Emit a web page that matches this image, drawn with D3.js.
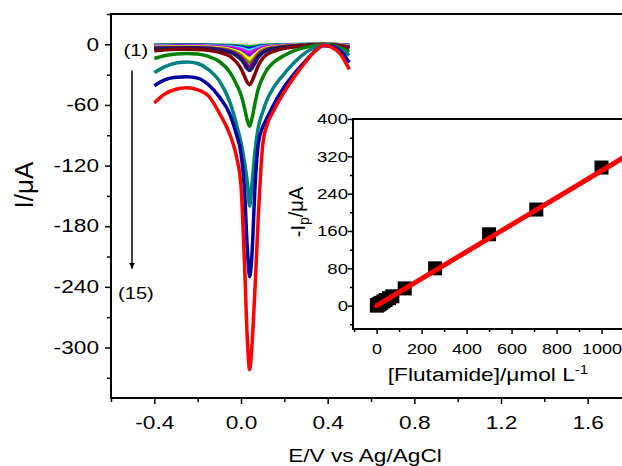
<!DOCTYPE html>
<html>
<head>
<meta charset="utf-8">
<script src="https://cdn.jsdelivr.net/npm/d3@7"></script>
<style>
  body { margin: 0; background: #fff; }
  text { font-family: "Liberation Sans", Arial, sans-serif; fill: #000; }
</style>
</head>
<body>
<div id="graph"></div>
<script>
// potential grid (V) shared by all voltammograms
var potential = [-0.4, -0.35, -0.3, -0.25, -0.2, -0.15, -0.1, -0.05, -0.02, 0, 0.015, 0.03, 0.04, 0.05, 0.065, 0.08, 0.1, 0.12, 0.15, 0.2, 0.25, 0.3, 0.35, 0.38, 0.42, 0.46, 0.5];

// currents (uA), curve (1) .. (15)
var c1 = [-0.5,-0.4,-0.4,-0.4,-0.4,-0.4,-0.5,-0.6,-0.8,-0.9,-1,-1.15,-1.2,-1.15,-1,-0.8,-0.6,-0.5,-0.4,-0.3,-0.2,-0.1,0,0,-0.1,-0.2,-0.4];
var c2 = [-0.8,-0.7,-0.7,-0.6,-0.7,-0.7,-0.9,-1.2,-1.5,-1.8,-2.1,-2.4,-2.5,-2.4,-2,-1.5,-1.1,-0.9,-0.7,-0.4,-0.3,-0.1,0,0,-0.1,-0.3,-0.6];
var c3 = [-1.2,-1.1,-1,-1,-1,-1.1,-1.3,-1.8,-2.3,-2.8,-3.3,-3.9,-4,-3.8,-3.1,-2.3,-1.7,-1.4,-1.1,-0.7,-0.4,-0.2,-0.1,0,-0.1,-0.4,-0.8];
var c4 = [-1.6,-1.4,-1.3,-1.3,-1.3,-1.5,-1.8,-2.5,-3.3,-4,-4.9,-5.8,-6,-5.6,-4.5,-3.3,-2.4,-1.9,-1.4,-0.9,-0.6,-0.3,-0.1,0,-0.2,-0.6,-1.1];
var c5 = [-2,-1.8,-1.6,-1.6,-1.7,-1.9,-2.3,-3.2,-4.3,-5.3,-6.5,-7.7,-8,-7.5,-5.9,-4.4,-3.1,-2.4,-1.8,-1.1,-0.7,-0.4,-0.2,-0.1,-0.2,-0.7,-1.4];
var c6 = [-2.5,-2.2,-2,-2,-2.1,-2.3,-2.9,-4.1,-5.7,-7.1,-8.8,-10.5,-11,-10.2,-7.9,-5.8,-4,-3,-2.2,-1.4,-0.9,-0.5,-0.2,-0.1,-0.3,-0.8,-1.7];
var c7 = [-3,-2.7,-2.5,-2.4,-2.5,-2.8,-3.5,-5,-7,-8.8,-11,-13.3,-14,-13,-10,-7.2,-4.9,-3.6,-2.7,-1.7,-1,-0.6,-0.3,-0.1,-0.3,-1,-2];
var c8 = [-3.5,-3.1,-2.9,-2.8,-2.9,-3.3,-4.2,-6,-8.5,-11,-14,-17,-18,-16.8,-12.8,-9,-6,-4.3,-3.2,-2,-1.2,-0.7,-0.3,-0.1,-0.4,-1.2,-2.4];
var c9 = [-4,-3.6,-3.4,-3.3,-3.4,-3.8,-4.8,-7,-10,-13,-17,-21,-22,-20.5,-15.5,-11,-7.3,-5.2,-3.8,-2.3,-1.4,-0.8,-0.4,-0.2,-0.4,-1.4,-2.8];
var c10 = [-4.5,-4,-3.8,-3.7,-3.8,-4.3,-5.5,-8,-11.5,-15,-19.5,-24.5,-26,-24,-18.5,-13,-8.5,-6,-4.3,-2.6,-1.6,-0.9,-0.4,-0.2,-0.5,-1.6,-3.2];
var c11 = [-6.5,-5.5,-5,-5,-5.2,-6,-8,-12,-18,-24,-31,-38,-40,-37,-29,-21,-14,-10,-7,-4,-2.5,-1.3,-0.5,-0.2,-0.6,-2,-4];
var c12 = [-14,-11,-9.5,-9,-9.5,-12,-17,-28,-40,-50,-62,-76,-81,-74,-58,-44,-33,-25,-18,-11,-6,-3,-1,-0.3,-1,-3.5,-7.5];
var c13 = [-28,-22,-18.5,-17.5,-19,-25,-36,-58,-80,-97,-115,-138,-160,-140,-105,-82,-67,-55,-43,-29,-17,-8,-2,-0.5,-1.5,-5,-11];
var c14 = [-41,-35,-32.5,-32,-33.5,-40,-52,-70,-90,-108,-140,-205,-230,-210,-140,-98,-82,-73,-60,-42,-28,-16,-5,-1.5,-2,-7,-18];
var c15 = [-58,-49,-44.5,-43,-45,-51,-68,-90,-112,-140,-210,-295,-322,-300,-240,-170,-100,-80,-66,-47,-31,-17,-5,-1,-3,-10,-25];
var curves = [c1, c2, c3, c4, c5, c6, c7, c8, c9, c10, c11, c12, c13, c14, c15];
var lineColors = ['#c8c8c8', '#00c000', '#0000ff', '#00ffff', '#ff00ff', '#8000ff', '#ffff00',
                  '#808000', '#800080', '#1a1a70', '#800000', '#008000', '#008080', '#0000a0', '#ff0000'];

// main axes ticks
var xMajor = [-0.4, 0, 0.4, 0.8, 1.2, 1.6];
var xMinor = [-0.6, -0.2, 0.2, 0.6, 1.0, 1.4];
var yMajor = [-300, -240, -180, -120, -60, 0];
var yMinor = [-330, -270, -210, -150, -90, -30, 30];

// inset: calibration data
var concentration = [1, 2, 5, 10, 15, 20, 30, 40, 55, 70, 125, 260, 500, 710, 1000];
var peakCurrent = [0.4, 0.8, 1.5, 3, 4.5, 6, 9, 12, 16, 20, 37, 80, 153, 206, 296];
var fitX = [0, 1100];
var fitY = [0, 318];
var insetXMajor = [0, 200, 400, 600, 800, 1000];
var insetXMinor = [-100, 100, 300, 500, 700, 900];
var insetYMajor = [0, 80, 160, 240, 320, 400];
var insetYMinor = [-40, 40, 120, 200, 280, 360];

var SX = 1.26; // the figure's glyphs are a bit wide
var ISX = 1.2; // inset labels

var svg = d3.select("#graph").append("svg")
    .attr("width", 622)
    .attr("height", 466);

// ---------- main plot ----------
var x = d3.scaleLinear().domain([-0.6, 1.8]).range([111, 631]);
var y = d3.scaleLinear().domain([-350, 30]).range([398, 14]);

var line = d3.line()
    .x(function(d) { return x(d[0]); })
    .y(function(d) { return y(d[1]); })
    .curve(d3.curveMonotoneX);

curves.forEach(function(c, i) {
    svg.append("path")
        .attr("d", line(d3.zip(potential, c)))
        .attr("fill", "none")
        .attr("stroke", lineColors[i])
        .attr("stroke-width", 3.5)
        .attr("stroke-linejoin", "round");
});

function tickStyle(g) {
    g.select(".domain").remove();
    g.selectAll("line").attr("stroke", "#000").attr("stroke-width", 1.5);
}

svg.append("g").attr("transform", "translate(0,398)")
    .call(d3.axisBottom(x).tickValues(xMinor).tickSize(4).tickFormat(""))
    .call(tickStyle);
svg.append("g").attr("transform", "translate(0,398)")
    .call(d3.axisBottom(x).tickValues(xMajor).tickSize(6).tickFormat(function(d) { return d.toFixed(1); }))
    .call(tickStyle)
    .selectAll("text")
    .attr("y", 18.5)
    .attr("transform", "scale(" + SX + ",1)")
    .style("font-size", "18px");

svg.append("g").attr("transform", "translate(111,0)")
    .call(d3.axisLeft(y).tickValues(yMinor).tickSize(4).tickFormat(""))
    .call(tickStyle);
svg.append("g").attr("transform", "translate(111,0)")
    .call(d3.axisLeft(y).tickValues(yMajor).tickSize(6).tickFormat(function(d) { return String(d); }))
    .call(tickStyle)
    .selectAll("text")
    .attr("x", -12 / SX)
    .attr("transform", "scale(" + SX + ",1)")
    .style("font-size", "18px");

svg.append("rect")
    .attr("x", 111).attr("y", 14)
    .attr("width", 520).attr("height", 384)
    .attr("fill", "none")
    .attr("stroke", "#000")
    .attr("stroke-width", 2);

// axis titles
svg.append("text")
    .attr("transform", "translate(365,462) scale(" + SX + ",1)")
    .attr("text-anchor", "middle")
    .style("font-size", "18px")
    .text("E/V vs Ag/AgCl");

svg.append("text")
    .attr("transform", "translate(33,185) rotate(-90)")
    .attr("text-anchor", "middle")
    .style("font-size", "26px")
    .text("I/\u03bcA");

// arrow (1) -> (15)
var defs = svg.append("defs");
defs.append("marker")
    .attr("id", "arrow")
    .attr("viewBox", "0 0 10 10")
    .attr("refX", 10).attr("refY", 5)
    .attr("markerWidth", 6).attr("markerHeight", 8)
    .attr("markerUnits", "userSpaceOnUse")
    .attr("orient", "auto")
    .append("path").attr("d", "M0,0L10,5L0,10Z").attr("fill", "#000");

svg.append("line")
    .attr("x1", x(-0.503)).attr("y1", y(-26))
    .attr("x2", x(-0.503)).attr("y2", y(-222))
    .attr("stroke", "#000").attr("stroke-width", 1.5)
    .attr("marker-end", "url(#arrow)");

svg.append("text")
    .attr("transform", "translate(" + x(-0.485) + "," + y(-12) + ") scale(" + SX + ",1)")
    .attr("text-anchor", "middle")
    .style("font-size", "16px")
    .text("(1)");
svg.append("text")
    .attr("transform", "translate(" + x(-0.485) + "," + y(-252) + ") scale(" + SX + ",1)")
    .attr("text-anchor", "middle")
    .style("font-size", "16px")
    .text("(15)");

// ---------- inset ----------
var ix = d3.scaleLinear().domain([-105, 1100]).range([353, 624]);
var iy = d3.scaleLinear().domain([-50, 400]).range([329, 119]);

svg.append("rect")
    .attr("x", 353).attr("y", 119)
    .attr("width", 271).attr("height", 210)
    .attr("fill", "#fff");

svg.append("g").attr("transform", "translate(0,329)")
    .call(d3.axisBottom(ix).tickValues(insetXMinor).tickSize(3).tickFormat(""))
    .call(tickStyle);
svg.append("g").attr("transform", "translate(0,329)")
    .call(d3.axisBottom(ix).tickValues(insetXMajor).tickSize(5).tickFormat(function(d) { return String(d); }))
    .call(tickStyle)
    .selectAll("text")
    .attr("y", 14)
    .attr("transform", "scale(" + ISX + ",1)")
    .style("font-size", "15px");

svg.append("g").attr("transform", "translate(353,0)")
    .call(d3.axisLeft(iy).tickValues(insetYMinor).tickSize(3).tickFormat(""))
    .call(tickStyle);
svg.append("g").attr("transform", "translate(353,0)")
    .call(d3.axisLeft(iy).tickValues(insetYMajor).tickSize(5).tickFormat(function(d) { return String(d); }))
    .call(tickStyle)
    .selectAll("text")
    .attr("x", -5 / ISX)
    .attr("transform", "scale(" + ISX + ",1)")
    .style("font-size", "15.5px");

svg.selectAll(".pt")
    .data(d3.zip(concentration, peakCurrent))
    .enter().append("rect")
    .attr("class", "pt")
    .attr("x", function(d) { return ix(d[0]) - 7; })
    .attr("y", function(d) { return iy(d[1]) - 7; })
    .attr("width", 14).attr("height", 14)
    .attr("fill", "#000");

svg.append("path")
    .attr("d", d3.line()
        .x(function(d) { return ix(d[0]); })
        .y(function(d) { return iy(d[1]); })(d3.zip(fitX, fitY)))
    .attr("stroke", "#ff0000")
    .attr("stroke-width", 5)
    .attr("stroke-linecap", "round")
    .attr("fill", "none");

svg.append("rect")
    .attr("x", 353).attr("y", 119)
    .attr("width", 271).attr("height", 210)
    .attr("fill", "none")
    .attr("stroke", "#000")
    .attr("stroke-width", 2);

var ixt = svg.append("text")
    .attr("transform", "translate(488,381) scale(" + SX + ",1)")
    .attr("text-anchor", "middle")
    .style("font-size", "18px");
ixt.append("tspan").text("[Flutamide]/\u03bcmol L");
ixt.append("tspan").attr("dy", "-0.6em").style("font-size", "12px").text("-1");

var iyt = svg.append("text")
    .attr("transform", "translate(305,212) rotate(-90)")
    .attr("text-anchor", "middle")
    .style("font-size", "20px");
iyt.append("tspan").text("-I");
iyt.append("tspan").attr("dy", "0.3em").style("font-size", "14px").text("p");
iyt.append("tspan").attr("dy", "-0.3em").text("/\u03bcA");
</script>
</body>
</html>
